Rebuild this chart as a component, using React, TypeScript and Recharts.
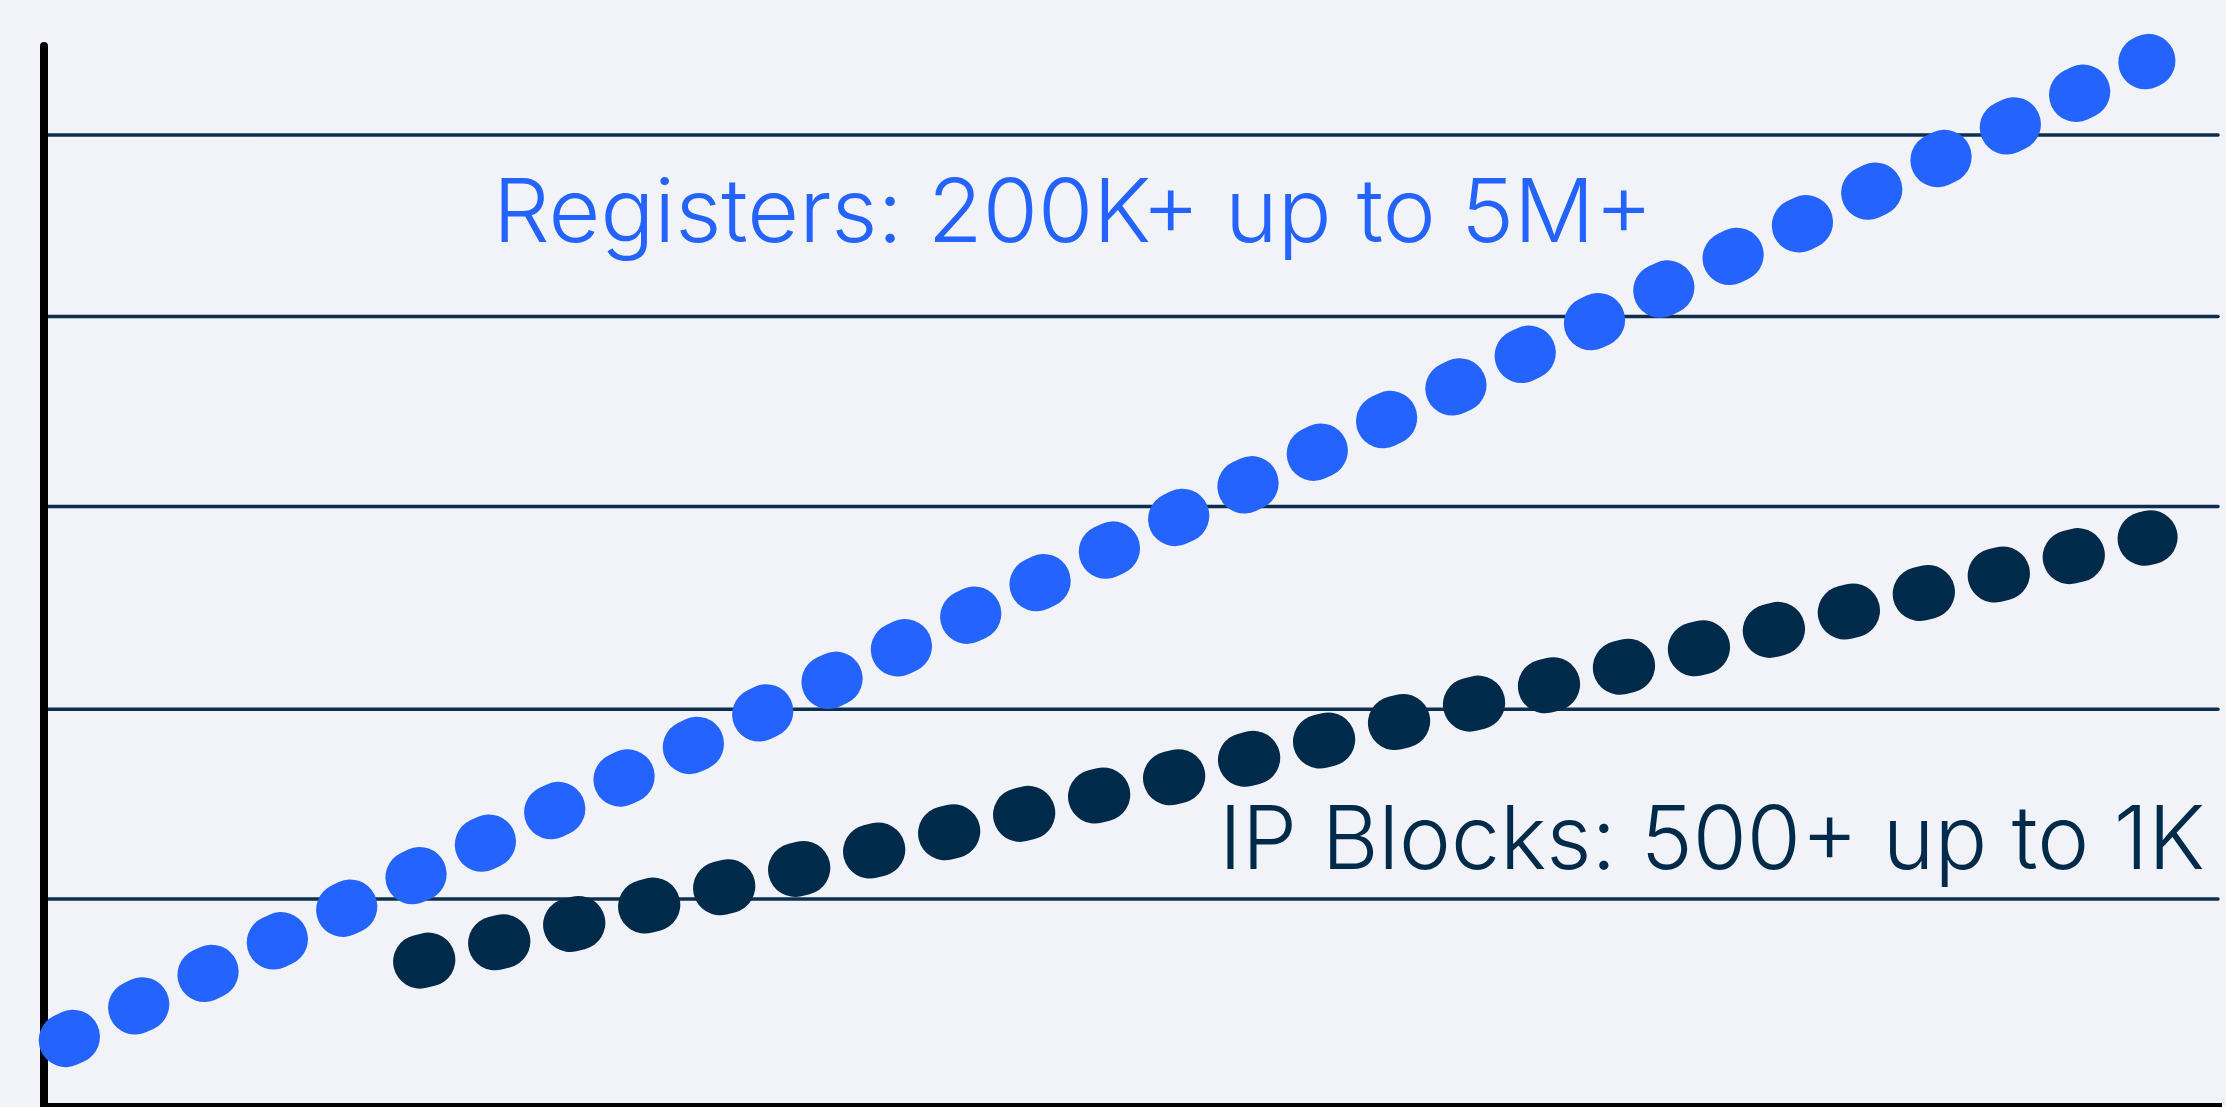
import { Line, LineChart, ReferenceLine, XAxis, YAxis } from "recharts";

// page reset so the chart fills the whole window
document.body.style.margin = "0";
document.body.style.overflow = "hidden";
document.body.style.background = "#f1f3f8";

// values on a 0-100 scale (x left to right, y bottom to top)
const registersX = [1.0, 48.6, 96.8];
const registersY = [6.3, 52.1, 98.6];

const ipBlocksX = [17.3, 57.8, 96.9];
const ipBlocksY = [13.7, 34.0, 53.7];

// horizontal rule positions
const gridTicks = [19.6, 37.5, 56.6, 74.5, 91.6];

const labels = ["Registers: 200K+ up to 5M+", "IP Blocks: 500+ up to 1K"];

const registersData = registersX.map((x, i) => ({ x, y: registersY[i] }));
const ipBlocksData = ipBlocksX.map((x, i) => ({ x, y: ipBlocksY[i] }));

const BLUE = "#2563ff";
const NAVY = "#002a4a";
const FONT = "Inter, 'Noto Sans', sans-serif";

const App = () => {
  return (
    <div style={{ position: "relative", width: 2226, height: 1107, background: "#f1f3f8" }}>
      <LineChart
        width={2226}
        height={1108}
        margin={{ top: 46, right: 8, bottom: 0, left: 43 }}
      >
        <XAxis
          type="number"
          dataKey="x"
          domain={[0, 100]}
          height={1}
          tick={false}
          tickLine={false}
          axisLine={{ stroke: "#000", strokeWidth: 8, strokeLinecap: "square" }}
          zIndex={300}
        />
        <YAxis
          type="number"
          dataKey="y"
          domain={[0, 100]}
          ticks={gridTicks}
          width={1}
          tick={false}
          tickLine={false}
          axisLine={{ stroke: "#000", strokeWidth: 8, strokeLinecap: "round" }}
          zIndex={300}
        />
        {gridTicks.map((t) => (
          <ReferenceLine
            key={t}
            y={t}
            stroke="#0b2f4d"
            strokeWidth={3.5}
            strokeLinecap="round"
            zIndex={-100}
          />
        ))}
        <Line
          data={registersData}
          dataKey="y"
          type="linear"
          stroke={BLUE}
          strokeWidth={54}
          strokeDasharray="8 68.6"
          strokeLinecap="round"
          dot={false}
          activeDot={false}
          isAnimationActive={false}
        />
        <Line
          data={ipBlocksData}
          dataKey="y"
          type="linear"
          stroke={NAVY}
          strokeWidth={54}
          strokeDasharray="8.5 68.7"
          strokeLinecap="round"
          dot={false}
          activeDot={false}
          isAnimationActive={false}
        />
      </LineChart>
      <svg
        width={2226}
        height={1107}
        style={{ position: "absolute", left: 0, top: 0, pointerEvents: "none" }}
      >
        <text
          x={493}
          y={242}
          fill={BLUE}
          fontFamily={FONT}
          fontWeight={300}
          fontSize={88}
          textLength={1160}
          lengthAdjust="spacingAndGlyphs"
        >
          {labels[0]}
        </text>
        <text
          x={1219}
          y={869}
          fill={NAVY}
          fontFamily={FONT}
          fontWeight={300}
          fontSize={88}
          textLength={986}
          lengthAdjust="spacingAndGlyphs"
        >
          {labels[1]}
        </text>
      </svg>
    </div>
  );
};

export default App;
